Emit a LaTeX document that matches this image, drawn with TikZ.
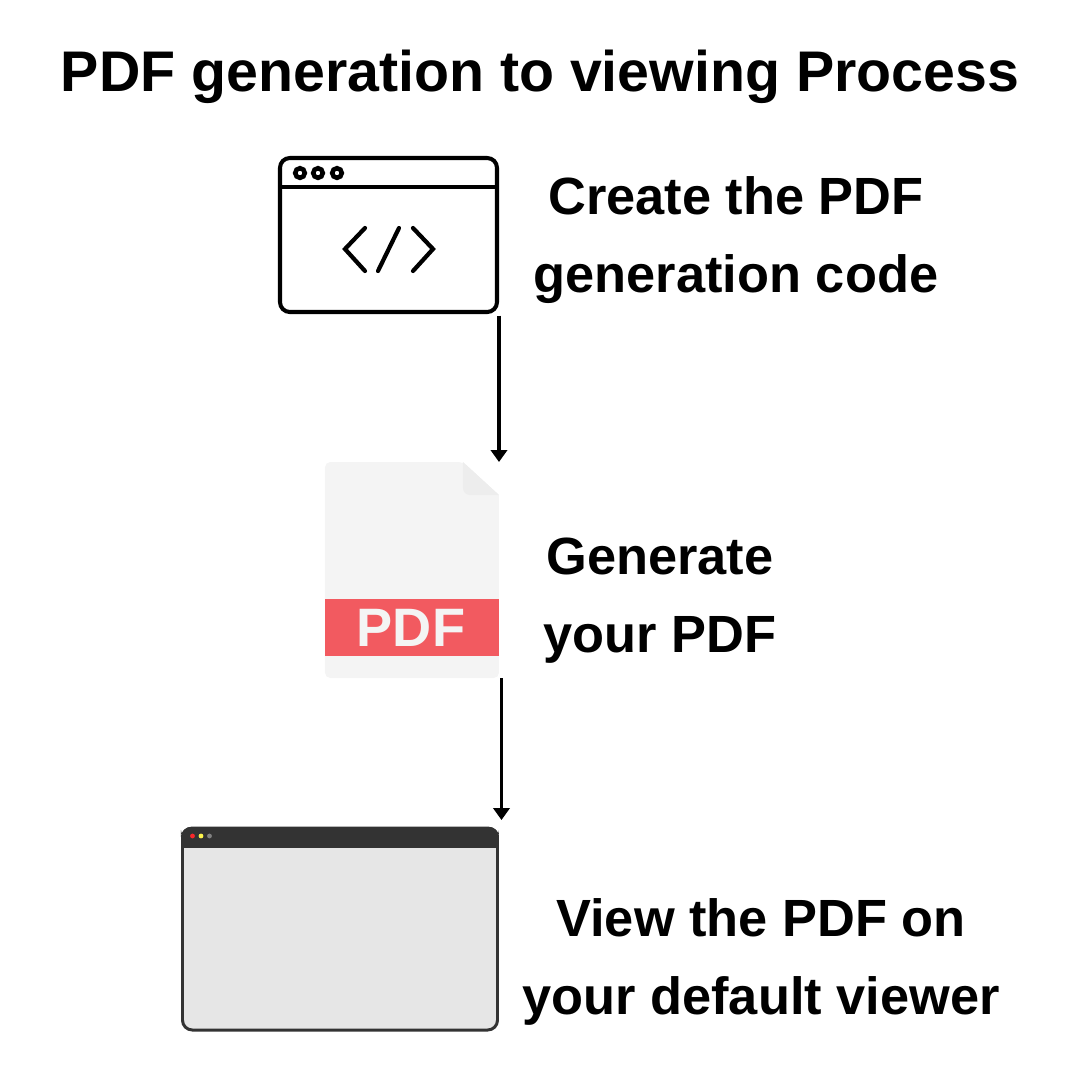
\documentclass[tikz,border=0pt]{standalone}
\usepackage{fontspec}
\setmainfont{Liberation Sans}
\usepackage{tikz}
\usetikzlibrary{arrows.meta}
\definecolor{pdfpaper}{HTML}{F4F4F4}
\definecolor{pdffold}{HTML}{EDEDED}
\definecolor{pdfband}{HTML}{F25A60}
\definecolor{viewdark}{HTML}{333333}
\definecolor{viewbody}{HTML}{E6E6E6}
\tikzset{
    heading/.style={font=\fontsize{16.3}{20}\bfseries},
    caption/.style={font=\fontsize{14.9}{22.2}\bfseries,align=center},
    flow/.style={-{Triangle[length=3.4pt,width=4.6pt]},line width=.95pt},
    icon/.style={inner sep=0,outer sep=0,anchor=north west},
}
\begin{document}
\begin{tikzpicture}[x=.1mm,y=-.1mm]
\useasboundingbox (0,0) rectangle (1080,1080);
\node [heading] (title) at (540,77) {PDF generation to viewing Process};

\node [icon,minimum width=.1mm*217,minimum height=.1mm*154,draw,line width=1.15pt,rounded corners=2.8pt]
    (codewin) at (280,158) {};
\draw [line width=1.15pt]
      (codewin.west |- 0,187) -- (codewin.east |- 0,187);
\draw [line width=1.3pt]
      (300,173) circle [radius=4.8]
      (318,173) circle [radius=4.8]
      (337,173) circle [radius=4.8];
\draw [line width=1.2pt,line cap=round,line join=miter]
      (365,228) -- (345,249) -- (365,271)
      (399,228) -- (378,271)
      (413,228) -- (433,249) -- (413,271);
\node [caption] (codetext) at (736,240) {Create the PDF\\generation code};

\node [icon,minimum width=.1mm*174,minimum height=.1mm*216] (pdfdoc) at (325,462) {};
\fill [pdfpaper,rounded corners=1.5pt]
      (325,678) -- (325,462) -- (463,462) [sharp corners] -- (499,495) [rounded corners=1.5pt] -- (499,678) -- cycle;
\fill [pdffold,rounded corners=2pt]
      (463,462) -- (463,495) [sharp corners] -- (499,495) -- cycle;
\fill [pdfband] (325,599) rectangle (499,656);
\node [font=\fontsize{15.4}{18}\bfseries,text=pdfpaper] (pdflabel) at (411,628) {PDF};
\node [caption] (pdftext) at (660,601) {Generate\\your PDF};

\node [icon,minimum width=.1mm*315,minimum height=.1mm*202,draw=viewdark,fill=viewbody,line width=.85pt,rounded corners=2.8pt]
    (viewer) at (182.5,828) {};
\fill [viewdark,rounded corners=2.8pt]
      (181,840) -- (181,827) -- (499,827) -- (499,840) -- cycle;
\fill [viewdark] (181,835) rectangle (499,848);
\fill [fill=red!55!pdfband] (192.5,836) circle [radius=2.4];
\fill [fill=yellow!70!white] (201,836) circle [radius=2.4];
\fill [fill=gray] (209.5,836) circle [radius=2.4];
\node [caption] (viewtext) at (761,962) {View the PDF on\\your default viewer};

\coordinate (pdfout) at ([xshift=.25mm]pdfdoc.south east);
\draw [flow,shorten <=1pt] (codewin.south -| pdfdoc.east) -- (pdfdoc.north east);
\draw [flow,shorten >=2.27pt] (pdfout) -- (pdfout |- viewer.north);
\end{tikzpicture}
\end{document}
